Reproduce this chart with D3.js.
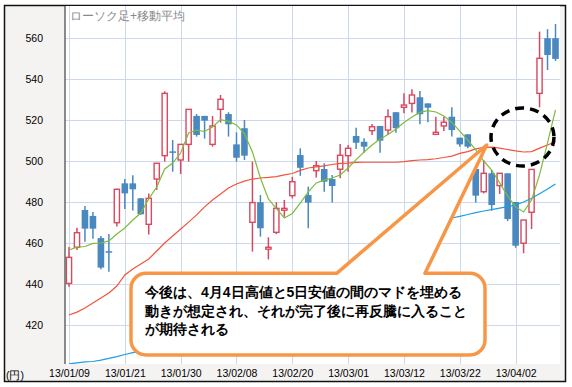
<!DOCTYPE html>
<html>
<head>
<meta charset="utf-8">
<script src="https://cdn.jsdelivr.net/npm/d3@7"></script>
<style>
  body { margin: 0; background: #fff; }
  text { font-family: 'Liberation Sans', Arial, sans-serif; }
</style>
</head>
<body>
<div id="chart"></div>
<script>
// trading days, 2013
let dates = [
  '13/01/09', '13/01/10', '13/01/11', '13/01/15', '13/01/16', '13/01/17', '13/01/18', '13/01/21',
  '13/01/22', '13/01/23', '13/01/24', '13/01/25', '13/01/28', '13/01/29', '13/01/30', '13/01/31',
  '13/02/01', '13/02/04', '13/02/05', '13/02/06', '13/02/07', '13/02/08', '13/02/12', '13/02/13',
  '13/02/14', '13/02/15', '13/02/18', '13/02/19', '13/02/20', '13/02/21', '13/02/22', '13/02/25',
  '13/02/26', '13/02/27', '13/02/28', '13/03/01', '13/03/04', '13/03/05', '13/03/06', '13/03/07',
  '13/03/08', '13/03/11', '13/03/12', '13/03/13', '13/03/14', '13/03/15', '13/03/18', '13/03/19',
  '13/03/21', '13/03/22', '13/03/25', '13/03/26', '13/03/27', '13/03/28', '13/03/29', '13/04/01',
  '13/04/02', '13/04/03', '13/04/04', '13/04/05', '13/04/08', '13/04/09'
]

let open = [
  440.3, 457.9, 476.1, 473.2, 462.4, 456.0, 469.9, 489.1, 489.1, 481.8, 469.1, 491.2, 502.6, 504.7, 500.5, 508.1,
  522.0, 522.0, 508.1, 525.2, 522.9, 508.1, 516.0, 470.1, 479.9, 457.0, 465.2, 476.0, 483.1, 502.9, 483.4, 495.3,
  496.1, 491.2, 496.0, 502.6, 512.2, 509.4, 514.8, 517.1, 515.1, 523.8, 526.2, 528.1, 531.1, 528.1, 513.0, 517.1,
  521.6, 511.4, 513.0, 496.1, 485.0, 494.0, 488.0, 494.0, 480.0, 459.9, 475.0, 533.0, 559.9, 559.9
]
let high = [
  458.0, 467.5, 478.0, 475.1, 463.4, 464.4, 486.5, 491.2, 493.0, 482.0, 484.2, 499.0, 534.0, 510.2, 508.2, 525.3,
  522.9, 522.0, 522.0, 532.2, 523.8, 514.0, 520.0, 499.7, 483.4, 462.8, 479.9, 481.0, 492.3, 506.2, 487.5, 500.0,
  498.9, 493.2, 508.3, 507.8, 516.2, 511.1, 518.0, 517.1, 525.2, 523.8, 533.0, 535.0, 534.1, 528.1, 521.6, 521.6,
  526.2, 511.4, 513.0, 496.1, 500.5, 495.6, 494.0, 494.0, 480.0, 471.2, 495.9, 563.1, 564.3, 566.8
]
let low = [
  438.7, 456.6, 460.6, 462.1, 447.2, 446.0, 468.0, 476.6, 475.8, 473.8, 464.2, 485.9, 499.7, 494.8, 493.7, 499.7,
  511.9, 510.9, 507.0, 518.7, 511.9, 499.7, 500.5, 455.8, 463.1, 452.0, 464.3, 472.8, 481.8, 492.8, 467.2, 492.0,
  485.0, 479.7, 491.6, 494.8, 505.9, 504.0, 512.7, 504.0, 512.7, 513.8, 523.3, 523.6, 517.9, 518.9, 512.7, 514.6,
  511.9, 507.0, 506.2, 479.7, 484.2, 475.8, 483.9, 470.7, 457.7, 455.0, 466.8, 526.2, 544.4, 548.8
]
let close = [
  453.0, 465.0, 467.0, 467.0, 448.0, 455.5, 486.2, 484.2, 486.2, 474.0, 481.8, 498.9, 533.0, 504.3, 508.1, 525.2,
  512.7, 519.7, 517.1, 530.1, 517.9, 501.6, 502.6, 479.7, 467.2, 457.9, 476.9, 476.9, 489.9, 496.7, 479.7, 497.7,
  489.9, 487.8, 502.8, 506.2, 508.9, 507.0, 516.7, 509.9, 521.6, 516.0, 527.3, 532.2, 522.8, 526.0, 514.0, 518.9,
  515.1, 508.1, 507.0, 483.1, 494.0, 478.5, 494.0, 471.7, 458.7, 471.2, 495.9, 550.1, 551.7, 549.8
]

// moving averages (short / 25 / 75)
let maShort = [
  456.6, 458.0, 458.3, 459.8, 460.0, 461.0, 464.4, 467.3, 471.2, 474.6, 481.5, 487.3, 496.1, 499.0, 503.9, 513.7,
  515.1, 514.4, 516.6, 520.2, 519.3, 517.6, 513.2, 504.4, 491.7, 481.5, 476.8, 472.2, 474.4, 479.5, 484.9, 489.3,
  490.7, 491.7, 493.2, 496.6, 500.7, 504.4, 507.8, 510.7, 512.9, 515.6, 518.8, 521.5, 523.7, 524.6, 523.9, 522.0,
  518.8, 514.6, 510.2, 505.4, 500.0, 495.6, 489.3, 482.9, 477.6, 475.1, 481.0, 493.2, 508.8, 524.9
]
let ma25 = [
  424.9, 426.3, 428.3, 430.7, 433.2, 435.6, 439.0, 444.4, 447.3, 449.8, 452.2, 456.1, 460.0, 463.4, 466.8, 470.2,
  473.7, 477.6, 481.0, 483.9, 486.8, 488.8, 490.2, 491.2, 491.7, 492.0, 492.4, 493.2, 493.9, 495.4, 496.6, 497.1,
  497.6, 498.3, 498.8, 499.0, 499.3, 499.4, 499.4, 499.4, 499.4, 499.4, 499.7, 500.2, 500.5, 500.7, 501.1, 501.7,
  502.4, 503.7, 504.6, 505.9, 506.6, 506.8, 506.3, 505.6, 504.9, 504.4, 504.6, 506.3, 507.8, 509.5
]
// hidden behind the callout in the middle
let ma75 = [
  401.0, 401.5, 402.0, 402.2, 402.9, 403.7, 404.6, 405.6, 406.5, 407.4, null, null, null, null, null, null,
  null, null, null, null, null, null, null, null, null, null, null, null, null, null, null, null,
  null, null, null, null, null, null, null, null, null, null, null, null, null, null, null, 471.6,
  472.2, 473.0, 473.9, 474.8, 475.6, 476.3, 477.0, 477.7, 478.6, 480.0, 481.8, 484.0, 486.3, 488.8
]

let labelDates = ['13/01/09', '13/01/21', '13/01/30', '13/02/08', '13/02/20', '13/03/01', '13/03/12', '13/03/22', '13/04/02']
let yTicks = [420, 440, 460, 480, 500, 520, 540, 560]

let noteLines = [
  '今後は、4月4日高値と5日安値の間のマドを埋める',
  '動きが想定され、それが完了後に再反騰に入ること',
  'が期待される'
]

let width = 572
let height = 387
let plot = { left: 65, right: 560, top: 6, bottom: 364 }

let svg = d3
  .select('#chart')
  .append('svg')
  .attr('width', width)
  .attr('height', height)

let x = d3.scalePoint().domain(dates).range([69, 555.5])
let y = d3.scaleLinear().domain([400, 576]).range([366, 5.2])

// frame + panels
svg.append('rect')
  .attr('x', 4.5).attr('y', 5.5)
  .attr('width', 561).attr('height', 376)
  .attr('fill', '#f4f3f1')
  .attr('stroke', '#111')
  .attr('stroke-width', 1.5)

svg.append('rect')
  .attr('x', plot.left).attr('y', plot.top)
  .attr('width', plot.right - plot.left)
  .attr('height', plot.bottom - plot.top)
  .attr('fill', '#fff')

svg.append('clipPath').attr('id', 'clip')
  .append('rect')
  .attr('x', plot.left).attr('y', plot.top)
  .attr('width', plot.right - plot.left)
  .attr('height', plot.bottom - plot.top)

let g = svg.append('g').attr('clip-path', 'url(#clip)')

// grid
g.selectAll('.hgrid')
  .data(yTicks)
  .enter().append('line')
  .attr('x1', plot.left).attr('x2', plot.right)
  .attr('y1', d => Math.round(y(d)) + 0.5)
  .attr('y2', d => Math.round(y(d)) + 0.5)
  .attr('stroke', '#cdd8ec')

g.selectAll('.vgrid')
  .data(labelDates)
  .enter().append('line')
  .attr('x1', d => Math.round(x(d)) + 0.5)
  .attr('x2', d => Math.round(x(d)) + 0.5)
  .attr('y1', plot.top).attr('y2', plot.bottom)
  .attr('stroke', '#cdd8ec')

g.append('text')
  .attr('x', 70).attr('y', 20)
  .attr('font-family', "'Noto Sans CJK JP', sans-serif")
  .attr('font-size', 12)
  .attr('fill', '#8a8a8a')
  .text('ローソク足+移動平均')

// candles
let candles = dates.map((d, i) => ({
  date: d, o: open[i], h: high[i], l: low[i], c: close[i], up: close[i] > open[i]
}))

let cg = g.selectAll('.candle')
  .data(candles)
  .enter().append('g')

cg.append('line')
  .attr('x1', d => x(d.date)).attr('x2', d => x(d.date))
  .attr('y1', d => y(d.h)).attr('y2', d => y(d.l))
  .attr('stroke', d => d.up ? '#d8485f' : '#4a88c0')
  .attr('stroke-width', 1.5)

cg.append('rect')
  .attr('x', d => d.up ? x(d.date) - 2.6 : x(d.date) - 3.3)
  .attr('width', d => d.up ? 5.2 : 6.6)
  .attr('y', d => y(Math.max(d.o, d.c)))
  .attr('height', d => Math.max(1.5, Math.abs(y(d.o) - y(d.c))))
  .attr('fill', d => d.up ? '#fff' : '#4a88c0')
  .attr('stroke', d => d.up ? '#d8485f' : 'none')
  .attr('stroke-width', 1.4)

// moving averages
let line = d3.line()
  .defined(d => d[1] != null)
  .x(d => x(d[0]))
  .y(d => y(d[1]))

let series = [
  { values: ma75, color: '#1c9fe0' },
  { values: ma25, color: '#f0553a' },
  { values: maShort, color: '#7dbc3c' }
]

series.forEach(s => {
  g.append('path')
    .datum(dates.map((d, i) => [d, s.values[i]]))
    .attr('d', line)
    .attr('fill', 'none')
    .attr('stroke', s.color)
    .attr('stroke-width', 1.2)
})

// axis line
svg.append('line')
  .attr('x1', plot.left).attr('x2', plot.left)
  .attr('y1', plot.top).attr('y2', plot.bottom)
  .attr('stroke', '#666')
  .attr('stroke-width', 1.5)

let yAxis = d3.axisLeft(y).tickValues(yTicks).tickSize(0).tickPadding(3)
svg.append('g')
  .attr('transform', 'translate(46,0)')
  .call(yAxis)
  .call(a => a.select('.domain').remove())
  .selectAll('text')
  .attr('font-family', "'Liberation Sans', Arial, sans-serif")
  .attr('font-size', 10.5)
  .attr('fill', '#000')

let xAxis = d3.axisBottom(x).tickValues(labelDates).tickSize(0).tickPadding(6)
svg.append('g')
  .attr('transform', 'translate(0,' + plot.bottom + ')')
  .call(xAxis)
  .call(a => a.select('.domain').remove())
  .selectAll('text')
  .attr('font-family', "'Liberation Sans', Arial, sans-serif")
  .attr('font-size', 10.5)
  .attr('fill', '#000')

svg.append('text')
  .attr('x', 6).attr('y', 379)
  .attr('font-family', "'Noto Sans CJK JP', sans-serif")
  .attr('font-size', 10.5)
  .text('(円)')

// callout box with pointer to the gap
let box = { x0: 131, x1: 485, y0: 273.3, y1: 355, r: 15 }
let tip = [486.7, 145]
let p = d3.path()
p.moveTo(box.x0 + box.r, box.y0)
p.lineTo(336.7, box.y0)
p.lineTo(tip[0], tip[1])
p.lineTo(425, box.y0)
p.lineTo(box.x1 - box.r, box.y0)
p.arcTo(box.x1, box.y0, box.x1, box.y0 + box.r, box.r)
p.lineTo(box.x1, box.y1 - box.r)
p.arcTo(box.x1, box.y1, box.x1 - box.r, box.y1, box.r)
p.lineTo(box.x0 + box.r, box.y1)
p.arcTo(box.x0, box.y1, box.x0, box.y1 - box.r, box.r)
p.lineTo(box.x0, box.y0 + box.r)
p.arcTo(box.x0, box.y0, box.x0 + box.r, box.y0, box.r)
p.closePath()

svg.append('path')
  .attr('d', p.toString())
  .attr('fill', '#fff')
  .attr('stroke', '#f79646')
  .attr('stroke-width', 3.5)
  .attr('stroke-linejoin', 'round')

svg.append('g')
  .selectAll('text')
  .data(noteLines)
  .enter().append('text')
  .attr('x', 145)
  .attr('y', (d, i) => 297 + i * 18.6)
  .attr('font-family', "'Noto Sans CJK JP', sans-serif")
  .attr('font-weight', 'bold')
  .attr('font-size', 14)
  .attr('fill', '#000')
  .text(d => d)

// dashed ring around the gap
svg.append('ellipse')
  .attr('cx', 522.5).attr('cy', 137)
  .attr('rx', 31.5).attr('ry', 29)
  .attr('fill', 'none')
  .attr('stroke', '#000')
  .attr('stroke-width', 3.5)
  .attr('stroke-dasharray', '9,6')
</script>
</body>
</html>
